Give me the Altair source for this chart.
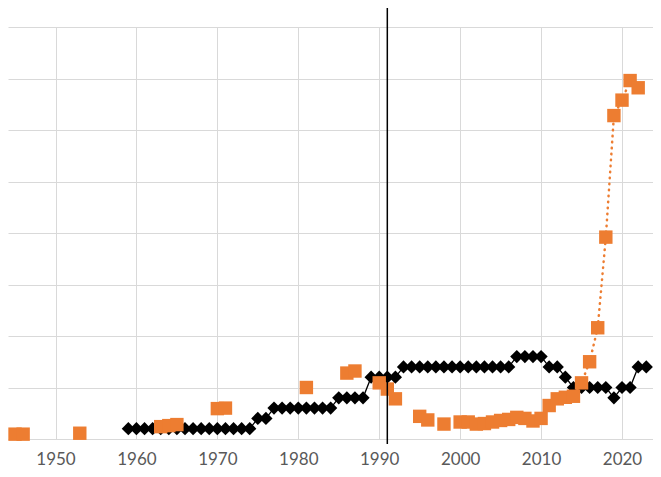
import altair as alt
import pandas as pd

# ---- data ----
black_years = list(range(1959, 2024))
black_values = [1, 1, 1, 1, 1, 1, 1, 1, 1, 1, 1, 1, 1, 1, 1, 1,
                2, 2,
                3, 3, 3, 3, 3, 3, 3, 3,
                4, 4, 4, 4,
                6, 6, 6, 6,
                7, 7, 7, 7, 7, 7, 7, 7, 7, 7, 7, 7, 7, 7,
                8, 8, 8, 8,
                7, 7,
                6,
                5, 5, 5, 5, 5,
                4,
                5, 5,
                7, 7]

orange_years = [1945, 1946, 1953, 1963, 1964, 1965, 1970, 1971, 1981, 1986, 1987,
                1990, 1991, 1992, 1995, 1996, 1998, 2000, 2001, 2002, 2003, 2004,
                2005, 2006, 2007, 2008, 2009, 2010, 2011, 2012, 2013, 2014, 2015,
                2016, 2017, 2018, 2019, 2020, 2021, 2022]
orange_values = [0.47, 0.47, 0.56, 1.2, 1.3, 1.4, 2.95, 3.0, 5.0, 6.4, 6.6,
                 5.45, 4.85, 3.9, 2.2, 1.85, 1.45, 1.65, 1.65, 1.45, 1.5, 1.65,
                 1.8, 1.9, 2.1, 2.0, 1.75, 2.0, 3.25, 3.9, 4.05, 4.15, 5.45,
                 7.5, 10.8, 19.6, 31.4, 32.9, 34.8, 34.1]

marker_years = [1991]
x_ticks = [1950, 1960, 1970, 1980, 1990, 2000, 2010, 2020]
y_grid = [0, 5, 10, 15, 20, 25, 30, 35, 40]

# ---- tables ----
black_df = pd.DataFrame({"year": black_years, "value": black_values})

segs = []
seg = 0
for i, yr in enumerate(orange_years):
    if i > 0 and yr - orange_years[i - 1] > 1:
        seg += 1
    segs.append(seg)
orange_df = pd.DataFrame({"year": orange_years, "value": orange_values, "seg": segs})
rule_df = pd.DataFrame({"year": marker_years})

GRID = "#D9D9D9"
ORANGE = "#ED7D31"
PLOT_H = 412

x_enc = alt.X(
    "year:Q",
    scale=alt.Scale(domain=[1944.13, 2023.83], nice=False, zero=False),
    axis=alt.Axis(values=x_ticks, format="d", title=None, grid=True, gridColor=GRID,
                  gridWidth=1, domain=False, ticks=False, tickSize=0,
                  labelFont="Lato", labelFontSize=17, labelColor="#595959",
                  labelBaseline="alphabetic", labelPadding=25),
)
y_enc = alt.Y(
    "value:Q",
    scale=alt.Scale(domain=[0, 40], nice=False, zero=True),
    axis=alt.Axis(values=y_grid, labels=False, ticks=False, domain=False, title=None,
                  grid=True, gridColor=GRID, gridWidth=1),
)

black_line = alt.Chart(black_df).mark_line(color="black", strokeWidth=1.3).encode(
    x=x_enc, y=y_enc)
black_pts = alt.Chart(black_df).mark_point(
    shape="diamond", filled=True, size=175, color="black", opacity=1).encode(
    x=x_enc, y=y_enc)
orange_line = alt.Chart(orange_df).mark_line(
    color=ORANGE, strokeWidth=2.5, strokeDash=[0.5, 5.5], strokeCap="round").encode(
    x=x_enc, y=y_enc, detail="seg:N")
orange_pts = alt.Chart(orange_df).mark_square(
    size=180, color=ORANGE, opacity=1).encode(x=x_enc, y=y_enc)
rule = alt.Chart(rule_df).mark_rule(color="black", strokeWidth=1.5).encode(
    x=x_enc, y=alt.value(-19), y2=alt.value(PLOT_H + 5))

chart = alt.layer(black_line, black_pts, orange_line, orange_pts, rule).properties(
    width=645,
    height=PLOT_H,
    autosize=alt.AutoSizeParams(type="none"),
    padding={"left": 0, "right": 0, "top": 19, "bottom": 30},
    background="white",
).configure_view(stroke=None)

chart.save("out.html", embed_options={"renderer": "svg", "actions": False})
